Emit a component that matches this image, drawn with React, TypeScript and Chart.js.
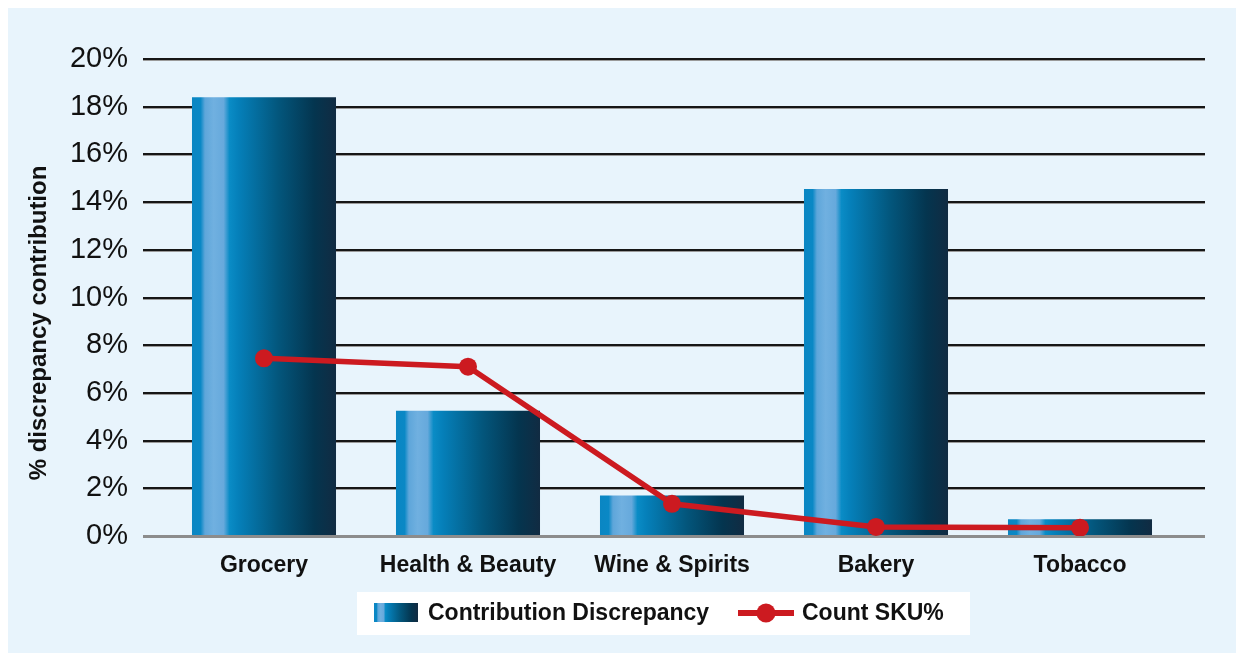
import React, { useEffect, useRef } from 'react';
import { Chart, registerables } from 'chart.js';

Chart.register(...registerables);

const categories = ['Grocery', 'Health & Beauty', 'Wine & Spirits', 'Bakery', 'Tobacco'];
const contributionDiscrepancy = [18.4, 5.25, 1.7, 14.55, 0.7];
const countSku = [7.45, 7.1, 1.35, 0.38, 0.35];
const seriesNames = ['Contribution Discrepancy', 'Count SKU%'];
const yAxisTitle = '% discrepancy contribution';
const yMin = 0;
const yMax = 20;
const yStep = 2;

const RED = '#cc1a20';
const BAR_PCT = 0.706;

function barGradient(ctx: CanvasRenderingContext2D, x0: number, x1: number) {
  const g = ctx.createLinearGradient(x0, 0, x1, 0);
  g.addColorStop(0, '#0a86c3');
  g.addColorStop(0.06, '#0a88c5');
  g.addColorStop(0.09, '#5ea6da');
  g.addColorStop(0.15, '#70b0e0');
  g.addColorStop(0.22, '#66a9dc');
  g.addColorStop(0.26, '#0a8cc6');
  g.addColorStop(0.32, '#0580ba');
  g.addColorStop(0.6, '#03567c');
  g.addColorStop(0.85, '#04354f');
  g.addColorStop(1, '#112b42');
  return g;
}

const decorPlugin = {
  id: 'decor',
  beforeDatasetsDraw(chart: any) {
    const { ctx, chartArea, scales } = chart;
    const y = scales.y;
    const left = chartArea.left - 19;
    const right = chartArea.right + 23;
    ctx.save();
    for (let v = yMin + yStep; v <= yMax; v += yStep) {
      const py = Math.round(y.getPixelForValue(v));
      ctx.fillStyle = '#9a9a9a';
      ctx.fillRect(left, py + 1, right - left, 1);
      ctx.fillStyle = '#161616';
      ctx.fillRect(left, py - 1, right - left, 2);
    }
    ctx.restore();
  },
  afterDatasetDraw(chart: any, args: any) {
    if (args.index !== 0) return;
    const { ctx, chartArea, scales } = chart;
    const py = scales.y.getPixelForValue(0);
    ctx.save();
    ctx.fillStyle = '#8c8c8c';
    ctx.fillRect(chartArea.left - 19, py - 1, chartArea.width + 42, 3);
    ctx.restore();
  },
  afterDraw(chart: any) {
    const { ctx } = chart;
    ctx.save();
    // y-axis title
    ctx.translate(31, 315);
    ctx.rotate(-Math.PI / 2);
    ctx.font = 'bold 24px "Liberation Sans", Arial, sans-serif';
    ctx.fillStyle = '#111';
    ctx.textAlign = 'center';
    ctx.textBaseline = 'middle';
    ctx.fillText(yAxisTitle, 0, 0);
    ctx.restore();

    // legend
    ctx.save();
    ctx.fillStyle = '#ffffff';
    ctx.fillRect(349, 584, 613, 43);
    ctx.fillStyle = barGradient(ctx, 366, 410);
    ctx.fillRect(366, 595, 44, 19);
    ctx.font = 'bold 23px "Liberation Sans", Arial, sans-serif';
    ctx.fillStyle = '#111';
    ctx.textAlign = 'left';
    ctx.textBaseline = 'middle';
    ctx.fillText(seriesNames[0], 420, 606);
    ctx.strokeStyle = RED;
    ctx.lineWidth = 6;
    ctx.beginPath();
    ctx.moveTo(730, 605);
    ctx.lineTo(786, 605);
    ctx.stroke();
    ctx.fillStyle = RED;
    ctx.beginPath();
    ctx.arc(758, 605, 9.5, 0, Math.PI * 2);
    ctx.fill();
    ctx.fillStyle = '#111';
    ctx.fillText(seriesNames[1], 794, 606);
    ctx.restore();
  },
};

export default function App() {
  const canvasRef = useRef<HTMLCanvasElement | null>(null);

  useEffect(() => {
    document.documentElement.style.overflow = 'hidden';
    document.body.style.overflow = 'hidden';
    const canvas = canvasRef.current;
    if (!canvas) return;
    const chart = new Chart(canvas, {
      type: 'bar',
      data: {
        labels: categories,
        datasets: [
          {
            type: 'bar',
            label: seriesNames[0],
            data: contributionDiscrepancy,
            order: 1,
            barPercentage: BAR_PCT,
            categoryPercentage: 1,
            backgroundColor: (c: any) => {
              const ch = c.chart;
              const xs = ch.scales && ch.scales.x;
              if (!xs || !ch.chartArea || c.dataIndex === undefined) return '#0a86c3';
              const cx = xs.getPixelForValue(c.dataIndex);
              const w = (ch.chartArea.width / categories.length) * BAR_PCT;
              return barGradient(ch.ctx, cx - w / 2, cx + w / 2);
            },
            borderWidth: 0,
          } as any,
          {
            type: 'line',
            label: seriesNames[1],
            data: countSku,
            order: 0,
            borderColor: RED,
            backgroundColor: RED,
            borderWidth: 5.5,
            pointRadius: 9,
            pointHoverRadius: 9,
            pointBackgroundColor: RED,
            pointBorderWidth: 0,
            tension: 0,
          } as any,
        ],
      },
      options: {
        animation: false,
        responsive: true,
        maintainAspectRatio: false,
        layout: { padding: { top: 51, right: 62, bottom: 0, left: 0 } },
        plugins: {
          legend: { display: false },
          tooltip: { enabled: false },
        },
        scales: {
          x: {
            type: 'category',
            offset: true,
            grid: { display: false },
            border: { display: false },
            ticks: {
              color: '#111',
              padding: 8,
              font: { family: '"Liberation Sans", Arial, sans-serif', size: 23, weight: 'bold' },
            },
            afterFit: (s: any) => {
              s.height = 117;
            },
          },
          y: {
            min: yMin,
            max: yMax,
            grid: { display: false },
            border: { display: false },
            ticks: {
              stepSize: yStep,
              color: '#111',
              padding: 26,
              font: { family: '"Liberation Sans", Arial, sans-serif', size: 29 },
              callback: (v: any) => `${v}%`,
            },
            afterFit: (s: any) => {
              s.width = 154;
            },
          },
        },
      },
      plugins: [decorPlugin],
    });
    return () => chart.destroy();
  }, []);

  return (
    <div style={{ position: 'relative', width: 1236, height: 645, background: '#e8f4fc' }}>
      <canvas ref={canvasRef} />
    </div>
  );
}
